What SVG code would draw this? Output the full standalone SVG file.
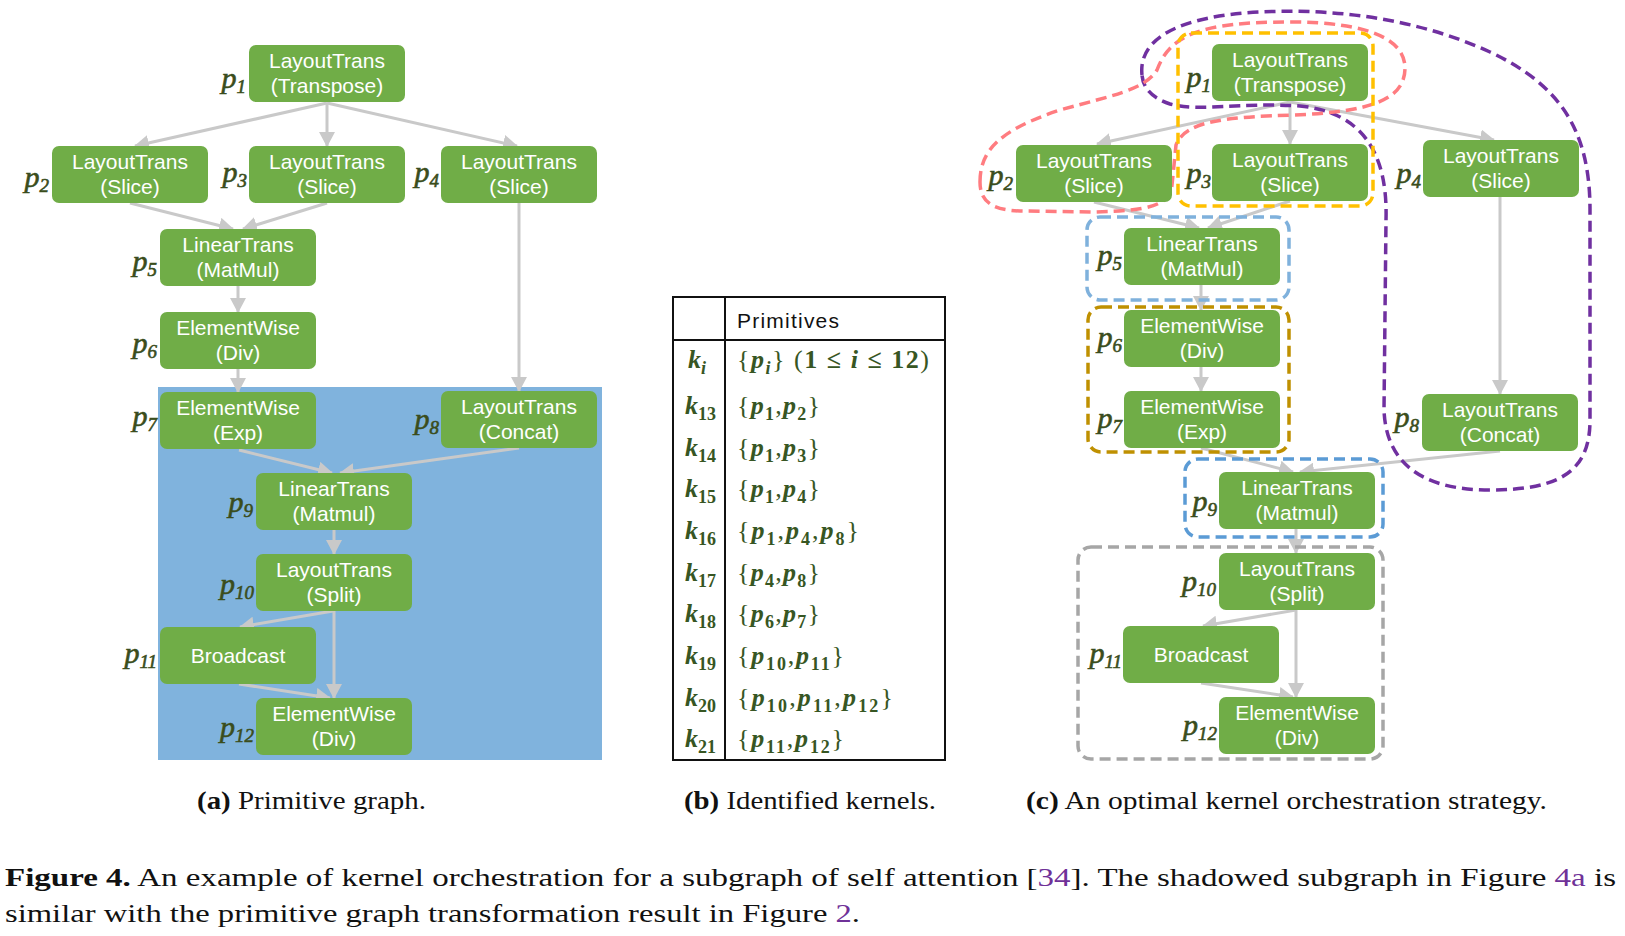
<svg xmlns="http://www.w3.org/2000/svg" width="1625" height="936" viewBox="0 0 1625 936">
<style>
.n{fill:#70ad47}
.t{font-family:"Liberation Sans",Arial,sans-serif;font-size:21px;fill:#fff;text-anchor:middle}
.lb{font-family:"Liberation Serif","Times New Roman",serif;font-style:italic;font-size:30px;fill:#3a4d1c;stroke:#3a4d1c;stroke-width:0.6;text-anchor:end}
.lb tspan{font-size:19px}
.e{stroke:#c9c9c9;stroke-width:3;fill:none;marker-end:url(#arr)}
.d{fill:none;stroke-width:3.5;stroke-dasharray:11 6}
.m{font-family:"Liberation Serif","Times New Roman",serif;font-size:26px;fill:#375623}
.bi{font-weight:bold;font-style:italic}
.sb{font-weight:bold;font-size:18px}
.cap{font-family:"Liberation Serif","Times New Roman",serif;font-size:26px;fill:#111}
.lk{fill:#6f3198}
</style>
<defs>
<marker id="arr" markerUnits="userSpaceOnUse" markerWidth="15" markerHeight="16" refX="14" refY="8" orient="auto">
<path d="M0,0 L15,8 L0,16 Z" fill="#c9c9c9"/>
</marker>
</defs>
<rect x="0" y="0" width="1625" height="936" fill="#fff"/>

<!-- panel a background -->
<rect id="shadow" x="158" y="387" width="444" height="373" fill="#80b3dd"/>

<g id="connectors">
<!-- panel a -->
<line class="e" x1="327" y1="103" x2="135" y2="146"/>
<line class="e" x1="327" y1="103" x2="327" y2="146"/>
<line class="e" x1="327" y1="103" x2="517" y2="146"/>
<line class="e" x1="130" y1="203" x2="233" y2="229"/>
<line class="e" x1="327" y1="203" x2="243" y2="229"/>
<line class="e" x1="238" y1="286" x2="238" y2="312"/>
<line class="e" x1="238" y1="369" x2="238" y2="392"/>
<line class="e" x1="519" y1="203" x2="519" y2="391"/>
<line class="e" x1="239" y1="450" x2="332" y2="473"/>
<line class="e" x1="519" y1="448" x2="340" y2="473"/>
<line class="e" x1="334" y1="530" x2="334" y2="554"/>
<line class="e" x1="333" y1="611" x2="240" y2="627"/>
<line class="e" x1="334" y1="611" x2="334" y2="698"/>
<line class="e" x1="239" y1="684" x2="330" y2="698"/>
<!-- panel c -->
<line class="e" x1="1290" y1="102" x2="1097" y2="144"/>
<line class="e" x1="1290" y1="102" x2="1290" y2="144"/>
<line class="e" x1="1290" y1="102" x2="1494" y2="140"/>
<line class="e" x1="1094" y1="202" x2="1199" y2="228"/>
<line class="e" x1="1290" y1="201" x2="1208" y2="228"/>
<line class="e" x1="1201" y1="284" x2="1201" y2="310"/>
<line class="e" x1="1201" y1="367" x2="1201" y2="391"/>
<line class="e" x1="1500" y1="197" x2="1500" y2="394"/>
<line class="e" x1="1201" y1="448" x2="1293" y2="472"/>
<line class="e" x1="1500" y1="451" x2="1300" y2="472"/>
<line class="e" x1="1296" y1="529" x2="1296" y2="553"/>
<line class="e" x1="1296" y1="610" x2="1203" y2="626"/>
<line class="e" x1="1296" y1="610" x2="1296" y2="697"/>
<line class="e" x1="1201" y1="683" x2="1293" y2="697"/>
</g>

<g id="kernels">
<path id="k16" class="d" stroke="#7030a0" d="M1142,75 C1138,38 1180,16 1260,12 C1340,8 1420,20 1490,52 C1560,85 1590,130 1590,210 L1590,420 C1590,470 1562,490 1490,490 C1420,490 1386,462 1384,410 L1386,220 C1388,150 1360,112 1300,106 C1240,102 1200,112 1170,104 C1152,98 1143,88 1142,75 Z"/>
<path id="k13" class="d" stroke="#ff7c80" d="M980,182 C980,150 1000,130 1060,110 C1110,96 1145,90 1157,70 C1170,35 1200,22 1290,22 C1370,22 1405,40 1405,68 C1405,100 1370,112 1293,115 C1230,117 1185,120 1176,145 L1172,185 C1170,205 1150,211 1093,212 L1020,211 C990,210 980,200 980,182 Z"/>
<rect id="k14" class="d" stroke="#ffc000" x="1178" y="33" width="195" height="173" rx="13"/>
<rect id="k5" class="d" stroke="#7fb1dc" x="1087" y="217" width="202" height="83" rx="13"/>
<rect id="k18" class="d" stroke="#bf9000" x="1088" y="307" width="201" height="145" rx="13"/>
<rect id="k9" class="d" stroke="#5b9bd5" x="1185" y="459" width="198" height="78" rx="13"/>
<rect id="k20" class="d" stroke="#a6a6a6" x="1078" y="547" width="305" height="212" rx="13"/>
</g>

<!-- panel a nodes -->
<g id="a-p1"><rect class="n" x="249" y="45" width="156" height="57" rx="7"/><text class="t" x="327" y="68">LayoutTrans</text><text class="t" x="327" y="93">(Transpose)</text><text class="lb" x="246" y="88">p<tspan dy="5">1</tspan></text></g>
<g id="a-p2"><rect class="n" x="52" y="146" width="156" height="57" rx="7"/><text class="t" x="130" y="169">LayoutTrans</text><text class="t" x="130" y="194">(Slice)</text><text class="lb" x="49" y="187">p<tspan dy="5">2</tspan></text></g>
<g id="a-p3"><rect class="n" x="249" y="146" width="156" height="57" rx="7"/><text class="t" x="327" y="169">LayoutTrans</text><text class="t" x="327" y="194">(Slice)</text><text class="lb" x="247" y="182">p<tspan dy="5">3</tspan></text></g>
<g id="a-p4"><rect class="n" x="441" y="146" width="156" height="57" rx="7"/><text class="t" x="519" y="169">LayoutTrans</text><text class="t" x="519" y="194">(Slice)</text><text class="lb" x="439" y="182">p<tspan dy="5">4</tspan></text></g>
<g id="a-p5"><rect class="n" x="160" y="229" width="156" height="57" rx="7"/><text class="t" x="238" y="252">LinearTrans</text><text class="t" x="238" y="277">(MatMul)</text><text class="lb" x="157" y="271">p<tspan dy="5">5</tspan></text></g>
<g id="a-p6"><rect class="n" x="160" y="312" width="156" height="57" rx="7"/><text class="t" x="238" y="335">ElementWise</text><text class="t" x="238" y="360">(Div)</text><text class="lb" x="157" y="353">p<tspan dy="5">6</tspan></text></g>
<g id="a-p7"><rect class="n" x="160" y="392" width="156" height="57" rx="7"/><text class="t" x="238" y="415">ElementWise</text><text class="t" x="238" y="440">(Exp)</text><text class="lb" x="157" y="426">p<tspan dy="5">7</tspan></text></g>
<g id="a-p8"><rect class="n" x="441" y="391" width="156" height="57" rx="7"/><text class="t" x="519" y="414">LayoutTrans</text><text class="t" x="519" y="439">(Concat)</text><text class="lb" x="439" y="429">p<tspan dy="5">8</tspan></text></g>
<g id="a-p9"><rect class="n" x="256" y="473" width="156" height="57" rx="7"/><text class="t" x="334" y="496">LinearTrans</text><text class="t" x="334" y="521">(Matmul)</text><text class="lb" x="253" y="512">p<tspan dy="5">9</tspan></text></g>
<g id="a-p10"><rect class="n" x="256" y="554" width="156" height="57" rx="7"/><text class="t" x="334" y="577">LayoutTrans</text><text class="t" x="334" y="602">(Split)</text><text class="lb" x="254" y="594">p<tspan dy="5">10</tspan></text></g>
<g id="a-p11"><rect class="n" x="160" y="627" width="156" height="57" rx="7"/><text class="t" x="238" y="663">Broadcast</text><text class="lb" x="157" y="663">p<tspan dy="5">11</tspan></text></g>
<g id="a-p12"><rect class="n" x="256" y="698" width="156" height="57" rx="7"/><text class="t" x="334" y="721">ElementWise</text><text class="t" x="334" y="746">(Div)</text><text class="lb" x="254" y="737">p<tspan dy="5">12</tspan></text></g>

<!-- panel c nodes -->
<g id="c-p1"><rect class="n" x="1212" y="44" width="156" height="57" rx="7"/><text class="t" x="1290" y="67">LayoutTrans</text><text class="t" x="1290" y="92">(Transpose)</text><text class="lb" x="1211" y="87">p<tspan dy="5">1</tspan></text></g>
<g id="c-p2"><rect class="n" x="1016" y="145" width="156" height="57" rx="7"/><text class="t" x="1094" y="168">LayoutTrans</text><text class="t" x="1094" y="193">(Slice)</text><text class="lb" x="1013" y="185">p<tspan dy="5">2</tspan></text></g>
<g id="c-p3"><rect class="n" x="1212" y="144" width="156" height="57" rx="7"/><text class="t" x="1290" y="167">LayoutTrans</text><text class="t" x="1290" y="192">(Slice)</text><text class="lb" x="1211" y="183">p<tspan dy="5">3</tspan></text></g>
<g id="c-p4"><rect class="n" x="1423" y="140" width="156" height="57" rx="7"/><text class="t" x="1501" y="163">LayoutTrans</text><text class="t" x="1501" y="188">(Slice)</text><text class="lb" x="1421" y="183">p<tspan dy="5">4</tspan></text></g>
<g id="c-p5"><rect class="n" x="1124" y="228" width="156" height="57" rx="7"/><text class="t" x="1202" y="251">LinearTrans</text><text class="t" x="1202" y="276">(MatMul)</text><text class="lb" x="1122" y="265">p<tspan dy="5">5</tspan></text></g>
<g id="c-p6"><rect class="n" x="1124" y="310" width="156" height="57" rx="7"/><text class="t" x="1202" y="333">ElementWise</text><text class="t" x="1202" y="358">(Div)</text><text class="lb" x="1122" y="347">p<tspan dy="5">6</tspan></text></g>
<g id="c-p7"><rect class="n" x="1124" y="391" width="156" height="57" rx="7"/><text class="t" x="1202" y="414">ElementWise</text><text class="t" x="1202" y="439">(Exp)</text><text class="lb" x="1122" y="428">p<tspan dy="5">7</tspan></text></g>
<g id="c-p8"><rect class="n" x="1422" y="394" width="156" height="57" rx="7"/><text class="t" x="1500" y="417">LayoutTrans</text><text class="t" x="1500" y="442">(Concat)</text><text class="lb" x="1419" y="427">p<tspan dy="5">8</tspan></text></g>
<g id="c-p9"><rect class="n" x="1219" y="472" width="156" height="57" rx="7"/><text class="t" x="1297" y="495">LinearTrans</text><text class="t" x="1297" y="520">(Matmul)</text><text class="lb" x="1217" y="511">p<tspan dy="5">9</tspan></text></g>
<g id="c-p10"><rect class="n" x="1219" y="553" width="156" height="57" rx="7"/><text class="t" x="1297" y="576">LayoutTrans</text><text class="t" x="1297" y="601">(Split)</text><text class="lb" x="1216" y="591">p<tspan dy="5">10</tspan></text></g>
<g id="c-p11"><rect class="n" x="1123" y="626" width="156" height="57" rx="7"/><text class="t" x="1201" y="662">Broadcast</text><text class="lb" x="1122" y="663">p<tspan dy="5">11</tspan></text></g>
<g id="c-p12"><rect class="n" x="1219" y="697" width="156" height="57" rx="7"/><text class="t" x="1297" y="720">ElementWise</text><text class="t" x="1297" y="745">(Div)</text><text class="lb" x="1217" y="735">p<tspan dy="5">12</tspan></text></g>

<!-- panel b table -->
<g id="table">
<rect x="673" y="297" width="272" height="463" fill="none" stroke="#111" stroke-width="2"/>
<line x1="725" y1="297" x2="725" y2="760" stroke="#111" stroke-width="2"/>
<line x1="673" y1="340" x2="945" y2="340" stroke="#111" stroke-width="2"/>
<text x="737" y="328" font-family="'Liberation Sans',Arial,sans-serif" font-size="21" fill="#111" textLength="102">Primitives</text>

<text class="m" x="688" y="368"><tspan class="bi">k</tspan><tspan class="bi" font-size="18" dy="6">i</tspan></text>
<text class="m" x="737" y="368" textLength="192">{<tspan class="bi">p</tspan><tspan class="bi" font-size="18" dy="6">i</tspan><tspan dy="-6">} (</tspan><tspan font-weight="bold">1 ≤ </tspan><tspan class="bi">i</tspan><tspan font-weight="bold"> ≤ 12</tspan>)</text>

<text class="m" x="685" y="414"><tspan class="bi">k</tspan><tspan class="sb" dy="6">13</tspan></text>
<text class="m" x="737" y="414" textLength="83">{<tspan class="bi">p</tspan><tspan class="sb" dy="6">1</tspan><tspan dy="-6">,</tspan><tspan class="bi">p</tspan><tspan class="sb" dy="6">2</tspan><tspan dy="-6">}</tspan></text>

<text class="m" x="685" y="456"><tspan class="bi">k</tspan><tspan class="sb" dy="6">14</tspan></text>
<text class="m" x="737" y="456" textLength="83">{<tspan class="bi">p</tspan><tspan class="sb" dy="6">1</tspan><tspan dy="-6">,</tspan><tspan class="bi">p</tspan><tspan class="sb" dy="6">3</tspan><tspan dy="-6">}</tspan></text>

<text class="m" x="685" y="497"><tspan class="bi">k</tspan><tspan class="sb" dy="6">15</tspan></text>
<text class="m" x="737" y="497" textLength="83">{<tspan class="bi">p</tspan><tspan class="sb" dy="6">1</tspan><tspan dy="-6">,</tspan><tspan class="bi">p</tspan><tspan class="sb" dy="6">4</tspan><tspan dy="-6">}</tspan></text>

<text class="m" x="685" y="539"><tspan class="bi">k</tspan><tspan class="sb" dy="6">16</tspan></text>
<text class="m" x="737" y="539" textLength="122">{<tspan class="bi">p</tspan><tspan class="sb" dy="6">1</tspan><tspan dy="-6">,</tspan><tspan class="bi">p</tspan><tspan class="sb" dy="6">4</tspan><tspan dy="-6">,</tspan><tspan class="bi">p</tspan><tspan class="sb" dy="6">8</tspan><tspan dy="-6">}</tspan></text>

<text class="m" x="685" y="581"><tspan class="bi">k</tspan><tspan class="sb" dy="6">17</tspan></text>
<text class="m" x="737" y="581" textLength="83">{<tspan class="bi">p</tspan><tspan class="sb" dy="6">4</tspan><tspan dy="-6">,</tspan><tspan class="bi">p</tspan><tspan class="sb" dy="6">8</tspan><tspan dy="-6">}</tspan></text>

<text class="m" x="685" y="622"><tspan class="bi">k</tspan><tspan class="sb" dy="6">18</tspan></text>
<text class="m" x="737" y="622" textLength="83">{<tspan class="bi">p</tspan><tspan class="sb" dy="6">6</tspan><tspan dy="-6">,</tspan><tspan class="bi">p</tspan><tspan class="sb" dy="6">7</tspan><tspan dy="-6">}</tspan></text>

<text class="m" x="685" y="664"><tspan class="bi">k</tspan><tspan class="sb" dy="6">19</tspan></text>
<text class="m" x="737" y="664" textLength="107">{<tspan class="bi">p</tspan><tspan class="sb" dy="6">10</tspan><tspan dy="-6">,</tspan><tspan class="bi">p</tspan><tspan class="sb" dy="6">11</tspan><tspan dy="-6">}</tspan></text>

<text class="m" x="685" y="706"><tspan class="bi">k</tspan><tspan class="sb" dy="6">20</tspan></text>
<text class="m" x="737" y="706" textLength="156">{<tspan class="bi">p</tspan><tspan class="sb" dy="6">10</tspan><tspan dy="-6">,</tspan><tspan class="bi">p</tspan><tspan class="sb" dy="6">11</tspan><tspan dy="-6">,</tspan><tspan class="bi">p</tspan><tspan class="sb" dy="6">12</tspan><tspan dy="-6">}</tspan></text>

<text class="m" x="685" y="747"><tspan class="bi">k</tspan><tspan class="sb" dy="6">21</tspan></text>
<text class="m" x="737" y="747" textLength="107">{<tspan class="bi">p</tspan><tspan class="sb" dy="6">11</tspan><tspan dy="-6">,</tspan><tspan class="bi">p</tspan><tspan class="sb" dy="6">12</tspan><tspan dy="-6">}</tspan></text>
</g>

<!-- captions -->
<g id="captions">
<text class="cap" x="197" y="809" textLength="229" lengthAdjust="spacingAndGlyphs"><tspan font-weight="bold">(a)</tspan> Primitive graph.</text>
<text class="cap" x="684" y="809" textLength="252" lengthAdjust="spacingAndGlyphs"><tspan font-weight="bold">(b)</tspan> Identified kernels.</text>
<text class="cap" x="1026" y="809" textLength="521" lengthAdjust="spacingAndGlyphs"><tspan font-weight="bold">(c)</tspan> An optimal kernel orchestration strategy.</text>
<text class="cap" x="5" y="886" font-size="27" textLength="1611" lengthAdjust="spacingAndGlyphs"><tspan font-weight="bold">Figure 4.</tspan> An example of kernel orchestration for a subgraph of self attention [<tspan class="lk">34</tspan>]. The shadowed subgraph in Figure <tspan class="lk">4a</tspan> is</text>
<text class="cap" x="5" y="922" font-size="27" textLength="855" lengthAdjust="spacingAndGlyphs">similar with the primitive graph transformation result in Figure <tspan class="lk">2</tspan>.</text>
</g>
</svg>
